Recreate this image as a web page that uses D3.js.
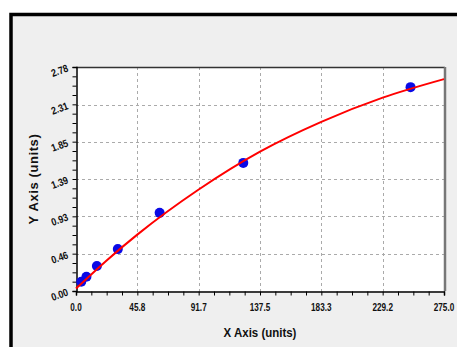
<!DOCTYPE html>
<html>
<head>
<meta charset="utf-8">
<script src="https://cdn.jsdelivr.net/npm/d3@7"></script>
<style>
  body { margin: 0; background: #fff; }
  svg { display: block; }
</style>
</head>
<body>
<svg id="chart" width="457" height="347"></svg>
<script>
// tick labels on both axes
var xTicks = [0, 45.8, 91.7, 137.5, 183.3, 229.2, 275.0];
var yTicks = [0, 0.46, 0.93, 1.39, 1.85, 2.31, 2.78];

// measured points
var pointX = [3.9, 7.8, 15.6, 31.25, 62.5, 125, 250];
var pointY = [0.115, 0.177, 0.31, 0.52, 0.97, 1.59, 2.53];

// fitted curve
var curveX = [0, 22.9, 45.8, 91.7, 137.5, 183.3, 229.2, 275];
var curveY = [0.03, 0.38, 0.70, 1.26, 1.73, 2.10, 2.40, 2.63];

var svg = d3.select("#chart");
var margin = {left: 76, top: 67, right: 444, bottom: 291};

// outer panel
svg.append("rect")
  .attr("x", 11).attr("y", 14.5)
  .attr("width", 470).attr("height", 360)
  .attr("fill", "#efefef")
  .attr("stroke", "#000")
  .attr("stroke-width", 3.5);

var x = d3.scaleLinear().domain([0, 275]).range([margin.left, margin.right]);
var y = d3.scaleLinear().domain([0, 2.78]).range([margin.bottom, margin.top]);

// plot background
svg.append("rect")
  .attr("x", margin.left).attr("y", margin.top)
  .attr("width", margin.right - margin.left)
  .attr("height", margin.bottom - margin.top)
  .attr("fill", "#fff");

// grid lines
svg.append("g").selectAll("line")
  .data(xTicks.slice(1, -1)).enter().append("line")
  .attr("x1", d => Math.round(x(d)) + 0.5).attr("x2", d => Math.round(x(d)) + 0.5)
  .attr("y1", margin.top).attr("y2", margin.bottom)
  .attr("stroke", "#aaa").attr("stroke-dasharray", "3,3");

svg.append("g").selectAll("line")
  .data(yTicks.slice(1, -1)).enter().append("line")
  .attr("y1", d => Math.round(y(d)) + 0.5).attr("y2", d => Math.round(y(d)) + 0.5)
  .attr("x1", margin.left).attr("x2", margin.right)
  .attr("stroke", "#aaa").attr("stroke-dasharray", "3,3");

// top and right border
svg.append("line")
  .attr("x1", margin.left).attr("x2", margin.right + 1)
  .attr("y1", margin.top + 0.5).attr("y2", margin.top + 0.5)
  .attr("stroke", "#333").attr("stroke-width", 1.5);
svg.append("line")
  .attr("x1", margin.right + 1).attr("x2", margin.right + 1)
  .attr("y1", margin.top).attr("y2", margin.bottom)
  .attr("stroke", "#777").attr("stroke-width", 2.5);

// minor ticks: 4 steps between majors
var xMinor = d3.range(0, 25).map(i => i * 275 / 24);
var yMinor = d3.range(0, 25).map(i => i * 2.78 / 24);

var xAxis = d3.axisBottom(x).tickValues(xMinor).tickSize(4).tickFormat("");
var gx = svg.append("g").attr("transform", "translate(0," + (margin.bottom + 0.5) + ")").call(xAxis);
gx.select(".domain").attr("stroke", "#000").attr("stroke-width", 1.5);
gx.selectAll(".tick line").attr("stroke", "#000");

var yAxis = d3.axisLeft(y).tickValues(yMinor).tickSize(4).tickFormat("");
var gy = svg.append("g").attr("transform", "translate(" + (margin.left + 0.5) + ",0)").call(yAxis);
gy.select(".domain").attr("stroke", "#000").attr("stroke-width", 1.5);
gy.selectAll(".tick line").attr("stroke", "#000");

var font = "'Liberation Sans', Arial, sans-serif";

// x tick labels, squeezed like a narrow face
svg.append("g").selectAll("text")
  .data(xTicks).enter().append("text")
  .attr("transform", d => "translate(" + x(d) + ",310.5) scale(0.82,1)")
  .attr("text-anchor", "middle")
  .style("font-family", font).style("font-weight", "bold").style("font-size", "10px")
  .attr("fill", "#111")
  .text(d => d.toFixed(1));

// y tick labels, slanted
svg.append("g").selectAll("text")
  .data(yTicks).enter().append("text")
  .attr("transform", d => "translate(" + (margin.left - 7) + "," + (y(d) + 4) + ") rotate(-20) scale(0.85,1)")
  .attr("text-anchor", "end")
  .style("font-family", font).style("font-weight", "bold").style("font-size", "10.5px")
  .attr("fill", "#111")
  .text(d => d.toFixed(2));

// axis titles
svg.append("text")
  .attr("transform", "translate(" + ((margin.left + margin.right) / 2) + ",337) scale(0.85,1)")
  .attr("text-anchor", "middle")
  .style("font-family", font).style("font-weight", "bold").style("font-size", "13.5px")
  .attr("fill", "#111")
  .text("X Axis (units)");

svg.append("text")
  .attr("transform", "translate(38,179) rotate(-90)")
  .attr("text-anchor", "middle")
  .style("font-family", font).style("font-weight", "bold").style("font-size", "13px")
  .style("letter-spacing", "0.6px")
  .attr("fill", "#111")
  .text("Y Axis (units)");

// fitted curve
var curveData = curveX.map((d, i) => [d, curveY[i]]);
var line = d3.line().x(d => x(d[0])).y(d => y(d[1])).curve(d3.curveMonotoneX);

// points
var pts = pointX.map((d, i) => [d, pointY[i]]);
svg.append("g").selectAll("circle")
  .data(pts).enter().append("circle")
  .attr("cx", d => x(d[0])).attr("cy", d => y(d[1]))
  .attr("r", 5)
  .attr("fill", "#0a0ae6");

svg.append("path")
  .datum(curveData)
  .attr("d", line)
  .attr("fill", "none")
  .attr("stroke", "#f00")
  .attr("stroke-width", 2);
</script>
</body>
</html>
